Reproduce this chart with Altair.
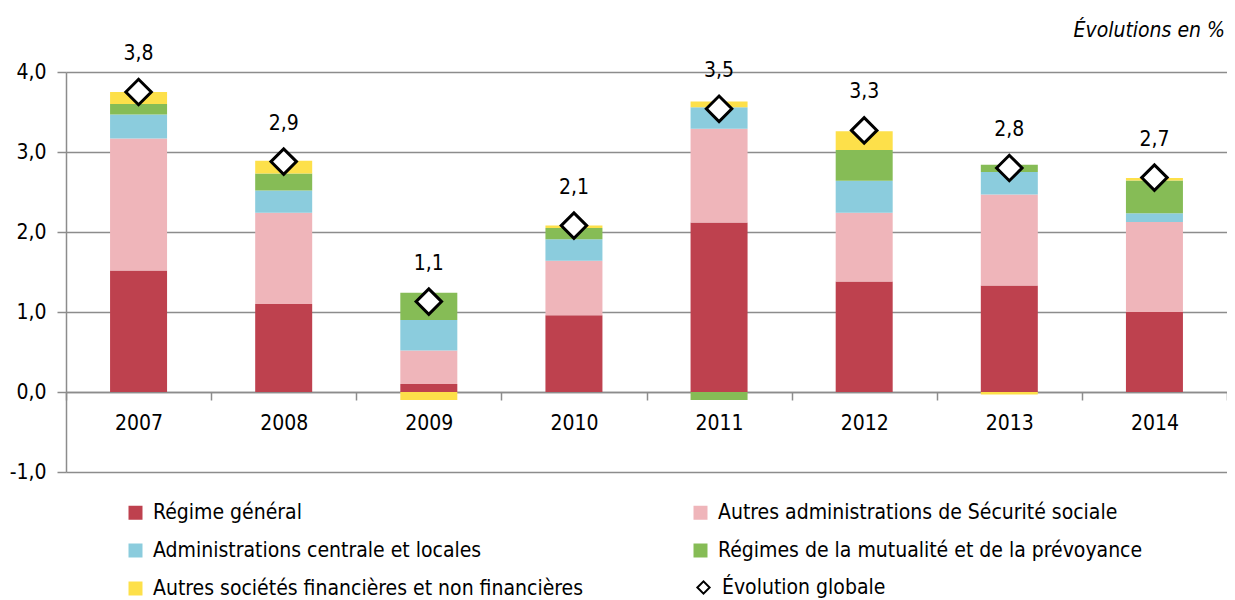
import altair as alt
import pandas as pd

years = ["2007", "2008", "2009", "2010", "2011", "2012", "2013", "2014"]
regime_general = [1.52, 1.10, 0.10, 0.96, 2.12, 1.38, 1.33, 1.00]
autres_admin_secu = [1.65, 1.14, 0.42, 0.68, 1.17, 0.86, 1.14, 1.125]
admin_centrale_locales = [0.30, 0.28, 0.38, 0.27, 0.27, 0.40, 0.28, 0.11]
mutualite_prevoyance = [0.13, 0.21, 0.34, 0.14, -0.10, 0.385, 0.09, 0.41]
autres_societes = [0.15, 0.16, -0.10, 0.03, 0.07, 0.235, -0.03, 0.03]
evolution_globale = [3.75, 2.88, 1.13, 2.08, 3.54, 3.27, 2.80, 2.68]
evolution_labels = ["3,8", "2,9", "1,1", "2,1", "3,5", "3,3", "2,8", "2,7"]

series_names = [
    "Régime général",
    "Autres administrations de Sécurité sociale",
    "Administrations centrale et locales",
    "Régimes de la mutualité et de la prévoyance",
    "Autres sociétés financières et non financières",
]
series_values = [regime_general, autres_admin_secu, admin_centrale_locales,
                 mutualite_prevoyance, autres_societes]
series_colors = ["#BE414E", "#EFB5BA", "#8BCCDD", "#86BC56", "#FDE04A"]
total_name = "Évolution globale"

# legend fills column by column: reorder so it reads row by row like the reference
legend_order = [0, 2, 4, 1, 3]
legend_domain = [series_names[i] for i in legend_order]
legend_range = [series_colors[i] for i in legend_order]

FONT = "DejaVu Sans Condensed, DejaVu Sans, sans-serif"

rows = []
for i, (name, vals) in enumerate(zip(series_names, series_values)):
    for y, v in zip(years, vals):
        rows.append({"year": y, "series": name, "value": v, "order": i})
bars_df = pd.DataFrame(rows)

tot_df = pd.DataFrame({"year": years, "total": evolution_globale,
                       "label": evolution_labels, "kind": [total_name] * len(years)})

x_enc = alt.X("year:N", title=None,
              scale=alt.Scale(paddingInner=0, paddingOuter=0),
              axis=alt.Axis(offset=-80, tickBand="extent", labelAngle=0,
                            domainColor="#8c8c8c", domainWidth=1.5,
                            tickColor="#8c8c8c", tickWidth=1.5, tickSize=8,
                            labelPadding=12, labelFontSize=21, labelColor="#000",
                            grid=False))
y_scale = alt.Scale(domain=[-1, 4], nice=False, zero=False)

bars = alt.Chart(bars_df).mark_bar(size=57).encode(
    x=x_enc,
    y=alt.Y("value:Q", scale=y_scale, title=None, stack="zero",
            axis=alt.Axis(values=[-1, 0, 1, 2, 3, 4],
                          labelExpr="replace(replace(format(datum.value, '.1f'), '.', ','), '\u2212', '-')",
                          grid=True, gridColor="#8c8c8c", gridWidth=1.5,
                          domainColor="#8c8c8c", domainWidth=1.5,
                          tickColor="#8c8c8c", tickWidth=1.5, tickSize=9,
                          labelPadding=11, labelFontSize=21, labelColor="#000")),
    color=alt.Color("series:N",
                    scale=alt.Scale(domain=legend_domain, range=legend_range),
                    legend=alt.Legend(title=None, orient="none", legendX=59, legendY=430,
                                      columns=2, columnPadding=106, rowPadding=16,
                                      gridAlign="all",
                                      symbolType="square", symbolSize=196,
                                      symbolStrokeWidth=0, labelOffset=7,
                                      labelFontSize=21, labelColor="#000",
                                      labelLimit=600)),
    order=alt.Order("order:Q", sort="ascending"),
)

points = alt.Chart(tot_df).mark_point(
    shape="diamond", filled=False, fill="white", fillOpacity=1,
    strokeWidth=3, size=650, opacity=1
).encode(
    x=alt.X("year:N"),
    y=alt.Y("total:Q", scale=y_scale),
    color=alt.Color("kind:N", scale=alt.Scale(domain=[total_name], range=["black"]),
                    legend=alt.Legend(title=None, orient="none", legendX=627, legendY=505,
                                      symbolType="diamond", symbolStrokeWidth=2,
                                      symbolSize=150, labelOffset=8,
                                      labelFontSize=21, labelColor="#000",
                                      labelLimit=400)),
)

texts = alt.Chart(tot_df).mark_text(dy=-38, fontSize=21, color="#000", font=FONT).encode(
    x=alt.X("year:N"),
    y=alt.Y("total:Q", scale=y_scale),
    text="label:N",
)

chart = alt.layer(bars, points, texts).resolve_scale(
    color="independent"
).properties(
    width=1161, height=400,
    autosize=alt.AutoSizeParams(type="none"),
    padding={"left": 58, "top": 64, "right": 0, "bottom": 128},
    title=alt.TitleParams("Évolutions en %", anchor="end", fontStyle="italic",
                          fontWeight="normal", fontSize=21, font=FONT, color="#000",
                          frame="group", baseline="alphabetic", offset=6, dx=-2, dy=21),
).configure(font=FONT).configure_view(stroke=None)

chart.save("out.html", embed_options={"renderer": "svg", "actions": False})
